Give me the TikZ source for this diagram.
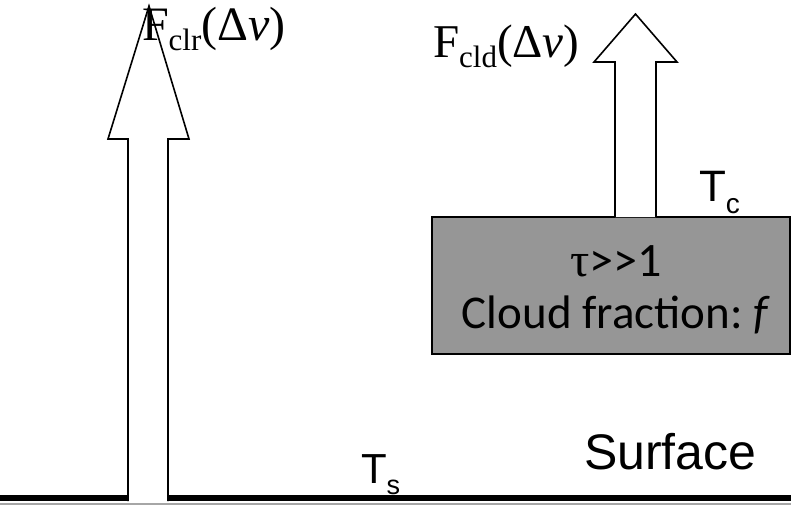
\documentclass[tikz,border=0pt]{standalone}
\usepackage{fontspec}
\setmainfont{Liberation Serif}
\newfontfamily\arialf{Liberation Sans}
\newfontfamily\calf{Carlito}
\begin{document}
\begin{tikzpicture}[x=1pt,y=-1pt,
  arrowshape/.style={draw=black,fill=white,line width=1.6pt,line join=miter},
  lbl/.style={inner sep=0pt,outer sep=0pt,anchor=base west}]
\useasboundingbox (0,0) rectangle (791,507);
% surface
\fill[black] (0,495) rectangle (791,501);
\draw[gray!70,line width=1.2pt] (0,504) -- (791,504);
% cloud box
\draw[fill=black!41,line width=2pt] (432,217) rectangle (790,354);
% clear-sky arrow
\draw[arrowshape] (128,501) -- (128,139) -- (108,139) -- (149,6) -- (189,139) -- (168,139) -- (168,501);
% cloudy arrow
\draw[arrowshape] (615,217) -- (615,62) -- (594,62) -- (635.5,14) -- (677,62) -- (656,62) -- (656,217);
% labels
\node[lbl] (fclr) at (142,40) {\fontsize{48}{48}\selectfont F\raisebox{-0.22em}{\fontsize{31}{31}\selectfont clr}(Δ\textit{v})};
\node[lbl] (fcld) at (433,57) {\fontsize{47}{47}\selectfont F\raisebox{-0.22em}{\fontsize{31}{31}\selectfont cld}(Δ\textit{v})};
\node[lbl] (tc) at (699,201) {\arialf\fontsize{44}{44}\selectfont T\raisebox{-0.28em}{\fontsize{28}{28}\selectfont c}};
\node[inner sep=0pt,anchor=base] (tau) at (616,276) {\fontsize{48}{48}\selectfont τ\calf>>1};
\node[inner sep=0pt,anchor=base] (frac) at (616,328) {\calf\fontsize{47}{47}\selectfont Cloud fraction:~\textit{f}};
\node[lbl] (surf) at (584,469) {\arialf\fontsize{50}{50}\selectfont Surface};
\node[lbl] (ts) at (361,483) {\arialf\fontsize{42}{42}\selectfont T\raisebox{-0.28em}{\fontsize{27}{27}\selectfont s}};
\end{tikzpicture}
\end{document}
